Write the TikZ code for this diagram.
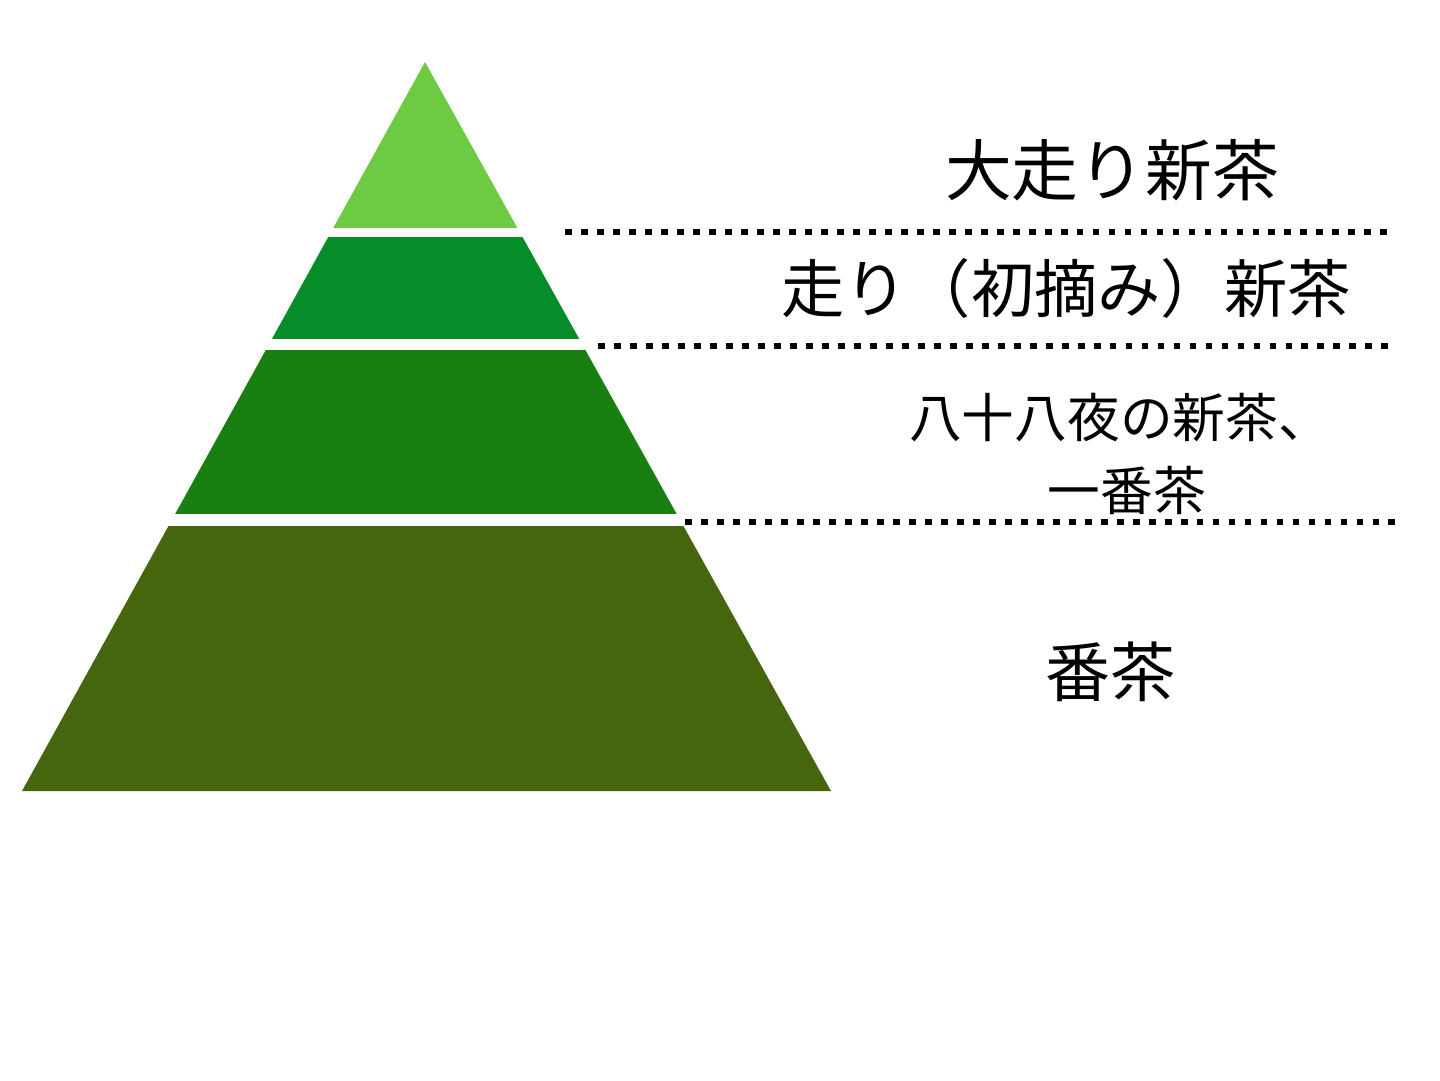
\documentclass[tikz,border=0pt]{standalone}
\usepackage{fontspec}
\setmainfont{Noto Sans CJK JP}
\definecolor{shinchaA}{HTML}{6CCB43}
\definecolor{shinchaB}{HTML}{078C2A}
\definecolor{ichiban}{HTML}{188010}
\definecolor{bancha}{HTML}{45660D}
\tikzset{
  sepline/.style={line width=3.9pt,dash pattern=on 3.9pt off 5.2pt,black},
  label/.style={inner sep=0pt,align=center,text=black}
}
\begin{document}
	\begin{tikzpicture}[x=0.02cm,y=-0.02cm]
		\useasboundingbox (0,0) rectangle (1440,1080);
		\begin{scope}
			\clip (425,62) -- (831,791) -- (22,791) -- cycle;
			\fill[shinchaA] (0,50) rectangle (900,228);
			\fill[shinchaB] (0,237) rectangle (900,339);
			\fill[ichiban] (0,350) rectangle (900,514);
			\fill[bancha] (0,526) rectangle (900,800);
		\end{scope}
		\draw[sepline] (565,232) -- (1390,232);
		\draw[sepline] (598,346) -- (1390,346);
		\draw[sepline] (685,522) -- (1397,522);
		\node[label,font=\fontsize{38pt}{45pt}\selectfont] (oohashiri) at (1112,170) {大走り新茶};
		\node[label,font=\fontsize{36pt}{43pt}\selectfont] (hashiri) at (1066,288) {走り（初摘み）新茶};
		\node[label,font=\fontsize{30pt}{36pt}\selectfont] (hachiju) at (1120,418) {八十八夜の新茶、};
		\node[label,font=\fontsize{30pt}{36pt}\selectfont] (ichibancha) at (1127,490) {一番茶};
		\node[label,font=\fontsize{37pt}{44pt}\selectfont] (banchatext) at (1110,672) {番茶};
	\end{tikzpicture}
\end{document}
